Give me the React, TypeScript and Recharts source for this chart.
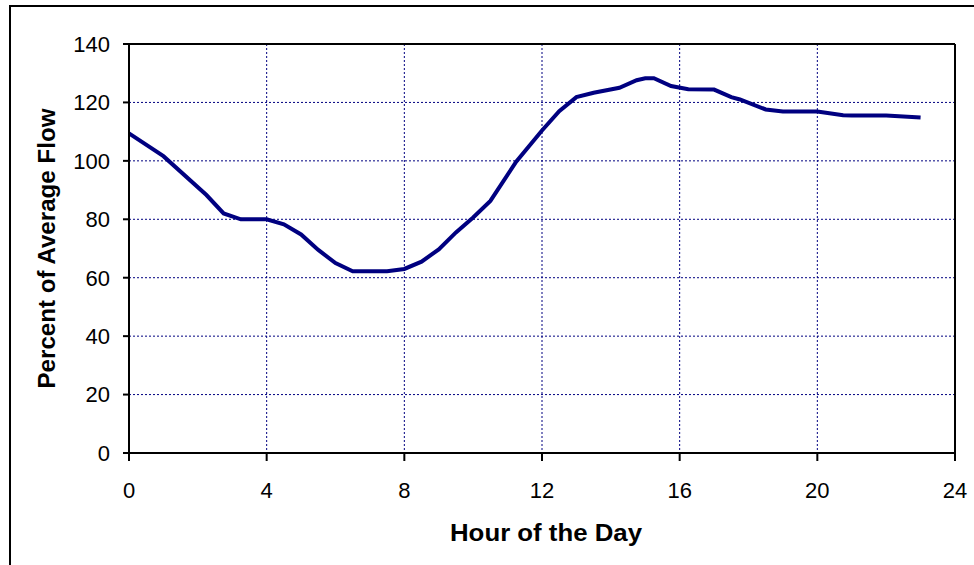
import { LineChart, Line, XAxis, YAxis, CartesianGrid, ReferenceLine } from "recharts";

// hour of day where the curve bends
const hours = [
  0, 1, 2.25, 2.75, 3.25, 4, 4.5, 5, 5.5, 6, 6.5, 7.5, 8, 8.5, 9, 9.5, 10, 10.5,
  11.25, 12, 12.5, 13, 13.5, 14.25, 14.75, 15, 15.25, 15.75, 16.25, 17, 17.5,
  17.75, 18.5, 19, 20, 20.75, 21, 22, 23,
];
const flow = [
  109.4, 101.6, 88.3, 82, 80, 80, 78.3, 74.8, 69.5, 65, 62.2, 62.2, 63, 65.5,
  69.7, 75.5, 80.6, 86.3, 99.7, 110.4, 117, 121.8, 123.3, 125, 127.6, 128.3,
  128.3, 125.6, 124.5, 124.4, 121.8, 121, 117.6, 116.9, 116.9, 115.6, 115.5,
  115.5, 114.8,
];
const xTicks = [0, 4, 8, 12, 16, 20, 24];
const yTicks = [0, 20, 40, 60, 80, 100, 120, 140];

const data = hours.map((h, i) => ({ hour: h, flow: flow[i] }));

const FONT = "'Liberation Sans', Arial, sans-serif";
const NAVY = "#000080";

const XTitle = ({ viewBox }: any) => (
  <text
    x={viewBox.x + viewBox.width / 2 + 4}
    y={viewBox.y + 88}
    textAnchor="middle"
    fontFamily={FONT}
    fontSize={24}
    fontWeight="bold"
    fill="#000"
    textLength={192}
    lengthAdjust="spacingAndGlyphs"
  >
    Hour of the Day
  </text>
);

const YTitle = ({ viewBox }: any) => {
  const cx = viewBox.x + 55;
  const cy = viewBox.y + viewBox.height / 2;
  return (
    <text
      x={cx}
      y={cy}
      transform={`rotate(-90 ${cx} ${cy})`}
      textAnchor="middle"
      fontFamily={FONT}
      fontSize={24}
      fontWeight="bold"
      fill="#000"
      textLength={280}
      lengthAdjust="spacingAndGlyphs"
    >
      Percent of Average Flow
    </text>
  );
};

export default function App() {
  return (
    <div style={{ position: "absolute", left: 0, top: 0, width: 974, height: 565, overflow: "hidden", background: "#fff" }}>
      <div
        style={{
          position: "absolute",
          left: 9,
          top: 5,
          width: 1100,
          height: 700,
          borderLeft: "2px solid #000",
          borderTop: "2px solid #000",
        }}
      />
      <div style={{ position: "absolute", left: 0, top: 0 }}>
        <LineChart width={974} height={565} data={data} margin={{ top: 44, right: 19, bottom: 0, left: 0 }}>
          <CartesianGrid stroke={NAVY} strokeDasharray="2 2" strokeWidth={1} />
          <XAxis
            dataKey="hour"
            type="number"
            domain={[0, 24]}
            ticks={xTicks}
            height={112}
            stroke="#000"
            strokeWidth={2}
            tickSize={8}
            tickMargin={21}
            tick={{ fill: "#000", fontSize: 22, fontFamily: FONT }}
            label={<XTitle />}
          />
          <YAxis
            type="number"
            domain={[0, 140]}
            ticks={yTicks}
            width={129}
            stroke="#000"
            strokeWidth={2}
            tickSize={6}
            tickMargin={13}
            tick={{ fill: "#000", fontSize: 22, fontFamily: FONT }}
            label={<YTitle />}
          />
          <ReferenceLine y={140} stroke="#000" strokeWidth={2} />
          <ReferenceLine x={24} stroke="#000" strokeWidth={2} />
          <Line
            dataKey="flow"
            type="linear"
            stroke={NAVY}
            strokeWidth={4}
            dot={false}
            activeDot={false}
            isAnimationActive={false}
          />
        </LineChart>
      </div>
    </div>
  );
}
